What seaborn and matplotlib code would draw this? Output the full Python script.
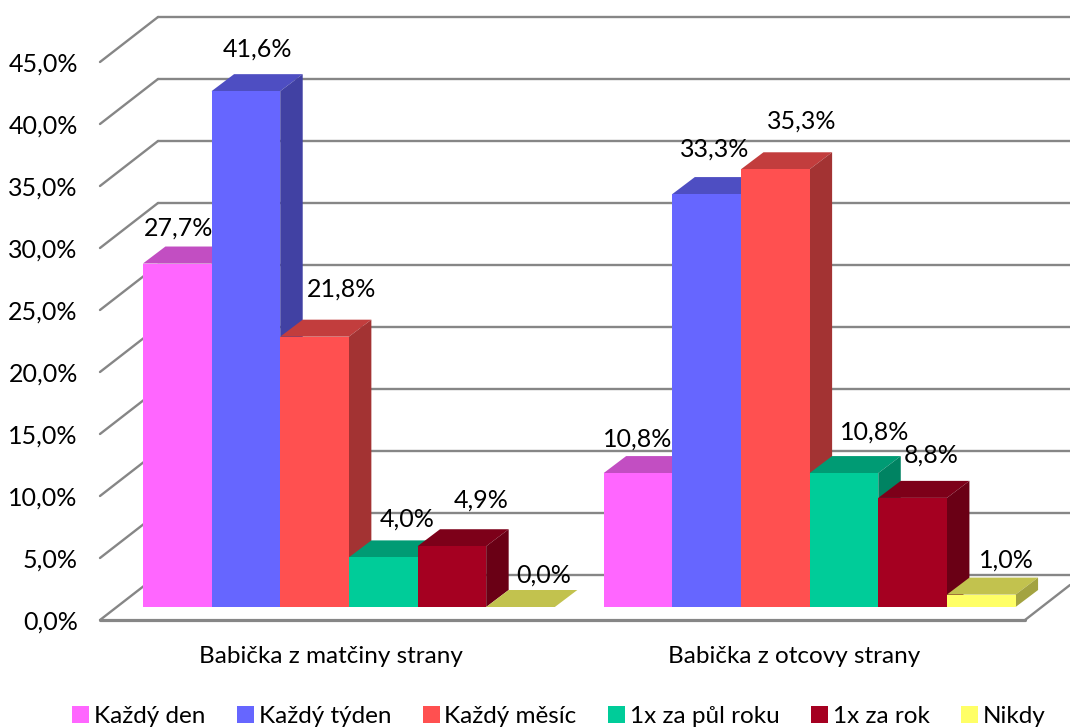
import numpy as np
import pandas as pd
import matplotlib
matplotlib.use("Agg")
import matplotlib.pyplot as plt
import seaborn as sns
from matplotlib.colors import to_rgb
from matplotlib.patches import Polygon

# data
categories = ["Babička z matčiny strany", "Babička z otcovy strany"]
frequencies = ["Každý den", "Každý týden", "Každý měsíc", "1x za půl roku", "1x za rok", "Nikdy"]
maternal = [27.7, 41.6, 21.8, 4.0, 4.9, 0.0]
paternal = [10.8, 33.3, 35.3, 10.8, 8.8, 1.0]
y_ticks = [0, 5, 10, 15, 20, 25, 30, 35, 40, 45]
colors = ["#FF66FF", "#6666FF", "#FF5050", "#00CC99", "#A50021", "#FFFF66"]

# label offsets from the middle of each bar's top edge, in pixels
label_offsets = [
    [(1, 36), (12, 43), (27, 49), (24, 39), (29, 47), (23, 33)],
    [(0, 35), (8, 46), (26, 49), (31, 42), (19, 44), (25, 36)],
]

W, H = 1070, 727
GRID = "#868686"
LINE_W = 1.7
FONT = 17.5

sns.set_theme(style="white")
plt.rcParams["font.family"] = ["Lato", "DejaVu Sans"]
plt.rcParams["text.color"] = "#000000"


def pixel_axes(fig, left, right, bottom, top):
    # axes box given in reference pixels, y measured from the top
    return fig.add_axes([left / W, 1 - bottom / H, (right - left) / W, (bottom - top) / H])


def fmt(v):
    return f"{v:.1f}%".replace(".", ",")


def shade(color, factor):
    return tuple(c * factor for c in to_rgb(color))


fig = plt.figure(figsize=(W / 100, H / 100), dpi=100)

# frame: floor, side wall and back wall lines
ax = pixel_axes(fig, 100, 1025, 620, 62)
ax.set_xlim(-0.5, 1.5)
ax.set_ylim(0, 45)
ax.set_facecolor("none")
sns.despine(ax=ax, left=True, bottom=True, right=True, top=True)
ax.set_yticks(y_ticks)
ax.set_yticklabels([fmt(t) for t in y_ticks], fontsize=FONT + 0.5, color="black")
ax.set_xticks([0, 1])
ax.set_xticklabels(categories, fontsize=FONT, color="black")
ax.tick_params(axis="y", length=0, pad=16)
ax.tick_params(axis="x", length=0, pad=18.5)

wall_dx = 58 / 462.5
wall_dy = 45 / 12.4
for t in y_ticks:
    ax.plot([-0.5, -0.5 + wall_dx], [t, t + wall_dy], color=GRID, lw=LINE_W, clip_on=False)
    ax.plot([-0.5 + wall_dx, 1.6], [t + wall_dy, t + wall_dy], color=GRID, lw=LINE_W, clip_on=False)
ax.plot([-0.5, 1.5], [0, 0], color=GRID, lw=LINE_W + 0.6, clip_on=False)
ax.plot([1.5, 1.5 + 45 / 462.5], [0, 35 / 12.4], color=GRID, lw=LINE_W, clip_on=False)

# bars sit on their own plane, a little behind the front of the floor
df = pd.DataFrame({
    "category": np.repeat(categories, len(frequencies)),
    "frequency": frequencies * 2,
    "value": maternal + paternal,
})
ax_bars = pixel_axes(fig, 118.5, 1040, 607, 49)
sns.barplot(
    data=df, x="category", y="value", hue="frequency", hue_order=frequencies,
    palette=colors, width=0.894, gap=0, linewidth=0, saturation=1, ax=ax_bars,
)
ax_bars.set_xlim(-0.5, 1.5)
ax_bars.set_ylim(0, 45)
ax_bars.patch.set_alpha(0)
ax_bars.set_xlabel("")
ax_bars.set_ylabel("")
ax_bars.set_xticks([])
ax_bars.set_yticks([])
sns.despine(ax=ax_bars, left=True, bottom=True, right=True, top=True)

bar_dx = 22.5 / 461
bar_dy = 17 / 12.4
for h, container in enumerate(ax_bars.containers):
    for c, bar in enumerate(container):
        x0, w, v = bar.get_x(), bar.get_width(), bar.get_height()
        x1 = x0 + w
        order = 3 + h * 3
        top = Polygon([(x0, v), (x1, v), (x1 + bar_dx, v + bar_dy), (x0 + bar_dx, v + bar_dy)],
                      facecolor=shade(colors[h], 0.76), edgecolor="none", zorder=order, clip_on=False)
        side = Polygon([(x1, 0), (x1 + bar_dx, bar_dy), (x1 + bar_dx, v + bar_dy), (x1, v)],
                       facecolor=shade(colors[h], 0.64), edgecolor="none", zorder=order, clip_on=False)
        ax_bars.add_patch(top)
        ax_bars.add_patch(side)
        bar.set_zorder(order + 1)
        dx, dy = label_offsets[c][h]
        ax_bars.annotate(fmt(v), (x0 + w / 2, v), xytext=(dx * 0.72, (dy - 1) * 0.72), textcoords="offset points",
                         ha="center", va="center", fontsize=FONT + 0.5, color="black", zorder=100,
                         annotation_clip=False)

sns.move_legend(
    ax_bars, "center", bbox_to_anchor=(559 / W, 1 - 716.5 / H), bbox_transform=fig.transFigure,
    ncol=6, frameon=False, title=None, fontsize=FONT, handlelength=0.7, handleheight=0.7,
    handletextpad=0.2, columnspacing=1.29, borderpad=0,
)

fig.savefig("out.png", dpi=100, facecolor="white")
